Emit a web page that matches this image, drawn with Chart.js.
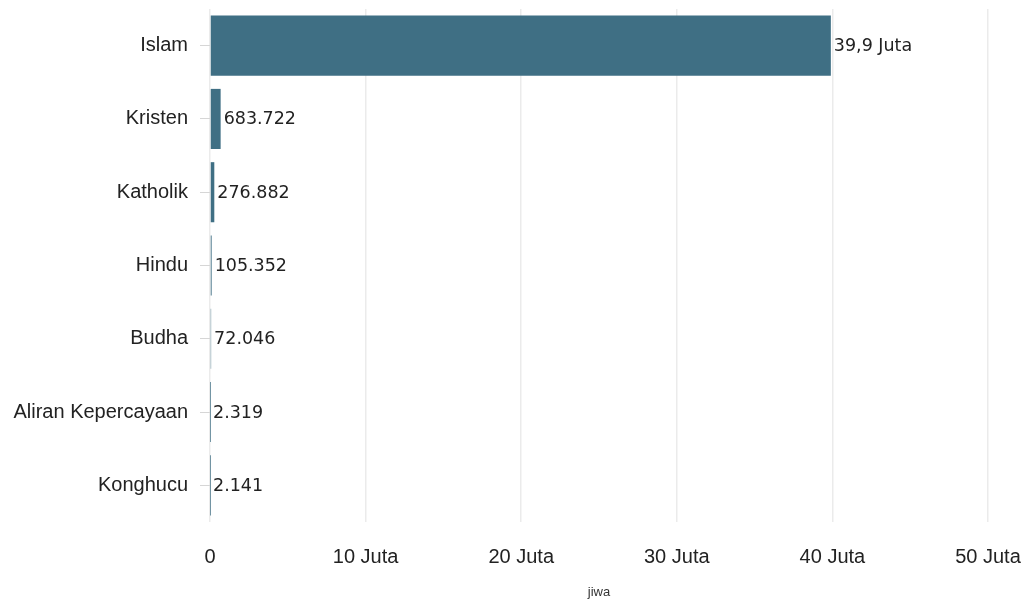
<!DOCTYPE html>
<html>
<head>
<meta charset="utf-8">
<script src="https://cdn.jsdelivr.net/npm/chart.js@4"></script>
<style>
html,body{margin:0;padding:0;background:#fff;}
#wrap{width:1029px;height:600px;position:relative;}
</style>
</head>
<body>
<div id="wrap"><canvas id="c"></canvas></div>
<script>
const categories = ["Islam", "Kristen", "Katholik", "Hindu", "Budha", "Aliran Kepercayaan", "Konghucu"];
const values = [39900000, 683722, 276882, 105352, 72046, 2319, 2141];
const valueLabels = ["39,9 Juta", "683.722", "276.882", "105.352", "72.046", "2.319", "2.141"];
const xTickLabels = ["0", "10 Juta", "20 Juta", "30 Juta", "40 Juta", "50 Juta"];
const xTitle = "jiwa";

const valueLabelPlugin = {
  id: 'valueLabels',
  afterDatasetsDraw(chart) {
    const ctx = chart.ctx;
    const meta = chart.getDatasetMeta(0);
    ctx.save();
    ctx.font = '17.5px "DejaVu Sans"';
    ctx.fillStyle = '#222';
    ctx.textAlign = 'left';
    ctx.textBaseline = 'middle';
    meta.data.forEach((bar, i) => {
      ctx.fillText(valueLabels[i], bar.x + 3, bar.y + 1);
    });
    ctx.restore();
  }
};

new Chart(document.getElementById('c'), {
  type: 'bar',
  data: {
    labels: categories,
    datasets: [{
      data: values,
      backgroundColor: '#3f6f84',
      borderWidth: 0,
      categoryPercentage: 1.0,
      barPercentage: 0.82
    }]
  },
  options: {
    indexAxis: 'y',
    responsive: true,
    maintainAspectRatio: false,
    animation: false,
    devicePixelRatio: 1,
    layout: { padding: { top: 9, right: 41, left: 0, bottom: 0 } },
    plugins: { legend: { display: false }, tooltip: { enabled: false } },
    scales: {
      x: {
        min: 0,
        max: 50000000,
        afterFit(scale) { scale.height = 78; scale.paddingLeft = 0; scale.paddingRight = 0; },
        ticks: {
          stepSize: 10000000,
          padding: 23,
          color: '#222',
          font: { family: '"Liberation Sans", Arial, sans-serif', size: 20 },
          callback: (v, i) => xTickLabels[i]
        },
        grid: { color: '#ebebeb', lineWidth: 1.5, drawTicks: false },
        border: { display: false },
        title: {
          display: true,
          text: xTitle,
          color: '#333',
          font: { family: '"Liberation Sans", Arial, sans-serif', size: 13 },
          padding: { top: 0, bottom: 0 }
        }
      },
      y: {
        afterFit(scale) { scale.width = 210; scale.paddingTop = 0; scale.paddingBottom = 0; },
        ticks: {
          color: '#222',
          padding: 12,
          font: { family: '"Liberation Sans", Arial, sans-serif', size: 20 }
        },
        grid: { display: true, offset: false, drawOnChartArea: false, drawTicks: true, tickLength: 10, color: '#d6d6d6' },
        border: { display: false }
      }
    }
  },
  plugins: [valueLabelPlugin]
});
</script>
</body>
</html>
